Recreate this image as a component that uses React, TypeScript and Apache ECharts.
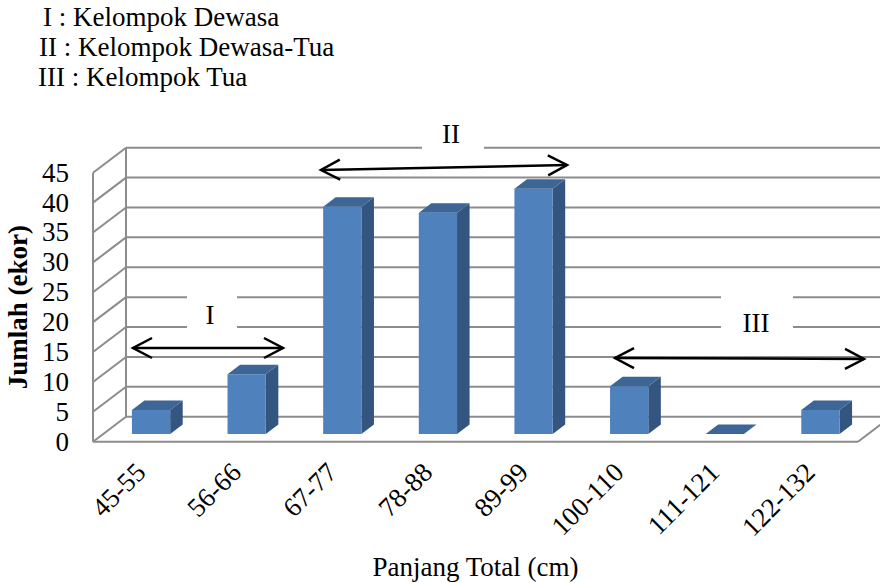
import React, { useEffect, useRef } from "react";
import * as echarts from "echarts";

// Length classes (cm) and number of fish in each class
const categories = ["45-55", "56-66", "67-77", "78-88", "89-99", "100-110", "111-121", "122-132"];
const counts = [4, 10, 38, 37, 41, 8, 0, 4];
const yTicks = [0, 5, 10, 15, 20, 25, 30, 35, 40, 45];

const groupNotes = ["I : Kelompok Dewasa", "II : Kelompok Dewasa-Tua", "III : Kelompok Tua"];
const groupMarks = ["I", "II", "III"];

const FONT = "Liberation Serif";
const FONT_SIZE = 27;
const GRID_COLOR = "#8c8c8c";

// 3D projection of the plot box (pixels): how far the back wall sits from the front plane
const DX = 33;
const DY = -25;
const BAR_FRONT = 0.31; // bar front face depth fraction
const BAR_DEPTH = 0.38; // bar thickness fraction
const BAR_WIDTH = 0.4; // bar width relative to the category band

function arrow(x1: number, y1: number, x2: number, y2: number) {
  const ang = Math.atan2(y2 - y1, x2 - x1);
  const L = 19;
  const W = 10;
  const head = (tx: number, ty: number, dir: number) => {
    const ux = Math.cos(ang) * dir;
    const uy = Math.sin(ang) * dir;
    const bx = tx - ux * L;
    const by = ty - uy * L;
    return {
      type: "polyline",
      z: 110,
      shape: {
        points: [
          [bx - uy * W, by + ux * W],
          [tx, ty],
          [bx + uy * W, by - ux * W],
        ],
      },
      style: { stroke: "#000", lineWidth: 2.5, fill: null },
    };
  };
  return [
    {
      type: "line",
      z: 110,
      shape: { x1, y1, x2, y2 },
      style: { stroke: "#000", lineWidth: 2.5 },
    },
    head(x1, y1, -1),
    head(x2, y2, 1),
  ];
}

export default function App() {
  const ref = useRef<HTMLDivElement>(null);

  useEffect(() => {
    if (!ref.current) return;
    const chart = echarts.init(ref.current, null, { renderer: "svg" });

    const line = (x1: number, y1: number, x2: number, y2: number) => ({
      type: "line",
      shape: { x1, y1, x2, y2 },
      style: { stroke: GRID_COLOR, lineWidth: 2 },
    });

    const wallItem = (params: any, api: any) => {
      const cs = params.coordSys;
      const v = api.value(1);
      const y = api.coord([0, v])[1];
      const left = cs.x;
      const right = cs.x + cs.width;
      const children: any[] = [
        line(left, y, left + DX, y + DY),
        line(left + DX, y + DY, right + DX + 40, y + DY),
      ];
      if (params.dataIndex === 0) {
        const top = cs.y;
        const bottom = cs.y + cs.height;
        children.push(line(left, top, left, bottom));
        children.push(line(left + DX, top + DY, left + DX, bottom + DY));
        children.push(line(left, bottom, right, bottom));
        children.push(line(right, bottom, right + DX, bottom + DY));
      }
      return { type: "group", children };
    };

    const barItem = (params: any, api: any) => {
      const i = api.value(0);
      const v = api.value(1);
      const base = api.coord([i, 0]);
      const top = api.coord([i, v]);
      const band = api.size([1, 0])[0];
      const w = band * BAR_WIDTH;
      const fx = DX * BAR_FRONT;
      const fy = DY * BAR_FRONT;
      const bx = DX * BAR_DEPTH;
      const by = DY * BAR_DEPTH;
      const x0 = base[0] - w / 2 + fx;
      const x1 = x0 + w;
      const yb = base[1] + fy;
      const yt = top[1] + fy;
      const children: any[] = [];
      if (yb - yt > 0.5) {
        children.push({
          type: "polygon",
          shape: { points: [[x1, yb], [x1, yt], [x1 + bx, yt + by], [x1 + bx, yb + by]] },
          style: { fill: "#34557f" },
        });
        children.push({
          type: "rect",
          shape: { x: x0, y: yt, width: w, height: yb - yt },
          style: { fill: "#4f81bd" },
        });
      }
      children.push({
        type: "polygon",
        shape: { points: [[x0, yt], [x1, yt], [x1 + bx, yt + by], [x0 + bx, yt + by]] },
        style: { fill: "#3d6596" },
      });
      return { type: "group", children };
    };

    const textEl = (text: string, x: number, y: number, align = "center") => ({
      type: "text",
      z: 110,
      x,
      y,
      style: {
        text,
        fill: "#000",
        fontSize: FONT_SIZE,
        fontFamily: FONT,
        align,
        verticalAlign: "middle",
      },
    });

    const whiteBox = (x: number, y: number, width: number, height: number) => ({
      type: "rect",
      z: 105,
      shape: { x, y, width, height },
      style: { fill: "#fff" },
    });

    chart.setOption({
      animation: false,
      backgroundColor: "#fff",
      textStyle: { fontFamily: FONT },
      grid: {
        left: 93,
        right: 22,
        top: 172.7,
        bottom: 141.3,
        containLabel: false,
        outerBoundsMode: "none",
      },
      xAxis: {
        type: "category",
        data: categories,
        axisLine: { show: false },
        axisTick: { show: false },
        splitLine: { show: false },
        axisLabel: {
          rotate: 45,
          interval: 0,
          margin: 26,
          fontSize: FONT_SIZE,
          fontFamily: FONT,
          color: "#000",
        },
        name: "Panjang Total (cm)",
        nameLocation: "middle",
        nameGap: 112,
        nameTextStyle: { fontSize: FONT_SIZE, fontFamily: FONT, color: "#000" },
      },
      yAxis: {
        type: "value",
        min: 0,
        max: 45,
        interval: 5,
        axisLine: { show: false },
        axisTick: { show: false },
        splitLine: { show: false },
        axisLabel: { margin: 24, fontSize: FONT_SIZE, fontFamily: FONT, color: "#000" },
        name: "Jumlah (ekor)",
        nameLocation: "middle",
        nameGap: 58,
        nameRotate: 90,
        nameTextStyle: {
          fontSize: FONT_SIZE,
          fontWeight: "bold",
          fontFamily: FONT,
          color: "#000",
        },
      },
      series: [
        {
          type: "custom",
          name: "walls",
          silent: true,
          clip: false,
          z: 1,
          data: yTicks.map((v) => [0, v]),
          encode: { x: 0, y: 1 },
          renderItem: wallItem,
        },
        {
          type: "custom",
          name: "Jumlah",
          clip: false,
          z: 3,
          data: counts.map((v, i) => [i, v]),
          encode: { x: 0, y: 1 },
          renderItem: barItem,
        },
      ],
      graphic: [
        textEl(groupNotes[0], 43, 17, "left"),
        textEl(groupNotes[1], 39, 47, "left"),
        textEl(groupNotes[2], 38, 77, "left"),
        whiteBox(187, 284, 50, 56),
        whiteBox(422, 116, 62, 42),
        whiteBox(721, 285, 72, 55),
        textEl(groupMarks[0], 210, 315),
        textEl(groupMarks[1], 451, 134),
        textEl(groupMarks[2], 756, 323),
        ...arrow(133, 348, 283, 348),
        ...arrow(321, 170, 567, 165),
        ...arrow(615, 358, 864, 359),
      ],
    });

    return () => chart.dispose();
  }, []);

  return (
    <div
      ref={ref}
      style={{ position: "fixed", left: 0, top: 0, width: 880, height: 583, background: "#fff" }}
    />
  );
}
